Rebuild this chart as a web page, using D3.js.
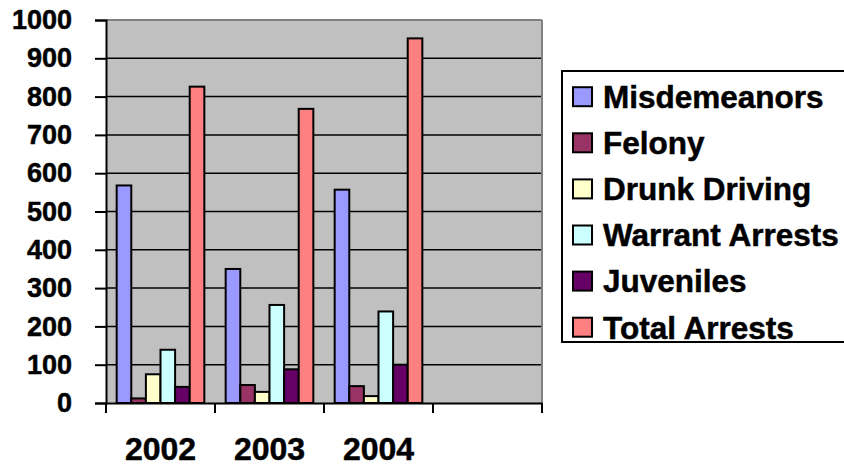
<!doctype html>
<html>
<head>
<meta charset="utf-8">
<script src="https://d3js.org/d3.v7.min.js"></script>
<style>
  body { margin: 0; background: #fff; }
  svg text { font-family: Arial, "Liberation Sans", sans-serif; font-weight: bold; fill: #000; stroke: #000; stroke-width: 0.5px; }
</style>
</head>
<body>
<div id="chart"></div>
<script>
// categories (4th slot is empty in the original)
var years = ["2002", "2003", "2004", ""];
var seriesNames = ["Misdemeanors", "Felony", "Drunk Driving", "Warrant Arrests", "Juveniles", "Total Arrests"];
var seriesColors = ["#9999FF", "#993366", "#FFFFCC", "#CCFFFF", "#660066", "#FF8080"];

// values per series, one per year
var misdemeanors = [568, 350, 557];
var felony = [12, 47, 44];
var drunkDriving = [75, 29, 18];
var warrantArrests = [139, 256, 239];
var juveniles = [42, 88, 100];
var totalArrests = [826, 768, 952];

var yTicks = [0, 100, 200, 300, 400, 500, 600, 700, 800, 900, 1000];

var allValues = [misdemeanors, felony, drunkDriving, warrantArrests, juveniles, totalArrests];

var width = 844, height = 466;
var plot = {left: 106, right: 542, top: 20, bottom: 403};

var svg = d3.select("#chart").append("svg")
  .attr("width", width)
  .attr("height", height);

var x = d3.scaleBand().domain(years).range([plot.left, plot.right]);
var xs = d3.scaleBand().domain(seriesNames).range([0, x.bandwidth()]).paddingOuter(0.73);
var y = d3.scaleLinear().domain([0, 1000]).range([plot.bottom, plot.top]);

// plot background
svg.append("rect")
  .attr("x", plot.left).attr("y", plot.top)
  .attr("width", plot.right - plot.left).attr("height", plot.bottom - plot.top)
  .attr("fill", "#C0C0C0");

// gridlines
svg.append("g").selectAll("line")
  .data(yTicks.filter(function(d){ return d > 0 && d < 1000; }))
  .enter().append("line")
  .attr("x1", plot.left).attr("x2", plot.right)
  .attr("y1", function(d){ return y(d); }).attr("y2", function(d){ return y(d); })
  .attr("stroke", "#000").attr("stroke-width", 1.5);

// top and right frame edges
svg.append("line")
  .attr("x1", plot.left).attr("x2", plot.right)
  .attr("y1", plot.top).attr("y2", plot.top)
  .attr("stroke", "#808080").attr("stroke-width", 2);
svg.append("line")
  .attr("x1", plot.right).attr("x2", plot.right)
  .attr("y1", plot.top).attr("y2", plot.bottom)
  .attr("stroke", "#808080").attr("stroke-width", 2);

// bars
var barData = [];
years.slice(0, 3).forEach(function(yr, i) {
  seriesNames.forEach(function(s, j) {
    barData.push({year: yr, series: s, value: allValues[j][i], color: seriesColors[j]});
  });
});

svg.append("g").selectAll("rect")
  .data(barData)
  .enter().append("rect")
  .attr("x", function(d){ return x(d.year) + xs(d.series); })
  .attr("y", function(d){ return y(d.value); })
  .attr("width", xs.bandwidth())
  .attr("height", function(d){ return y(0) - y(d.value); })
  .attr("fill", function(d){ return d.color; })
  .attr("stroke", "#000")
  .attr("stroke-width", 2);

// y axis
var yAxis = svg.append("g")
  .attr("transform", "translate(" + plot.left + ",0)")
  .call(d3.axisLeft(y).tickValues(yTicks).tickSize(11).tickPadding(23).tickFormat(d3.format("d")));
yAxis.selectAll("text").style("font-size", "27px");
yAxis.selectAll("line").attr("stroke", "#000").attr("stroke-width", 2);
yAxis.select(".domain").attr("stroke", "#000").attr("stroke-width", 2);

// x axis
var xAxis = svg.append("g")
  .attr("transform", "translate(0," + plot.bottom + ")")
  .call(d3.axisBottom(x).tickSize(0).tickPadding(0));
xAxis.select(".domain").attr("stroke", "#000").attr("stroke-width", 2);
xAxis.selectAll("text")
  .attr("y", 57)
  .attr("dy", null)
  .style("font-size", "32px");

// x tick marks at band boundaries
var bounds = years.map(function(d){ return x(d); }).concat([plot.right]);
svg.append("g").selectAll("line")
  .data(bounds)
  .enter().append("line")
  .attr("x1", function(d){ return d; }).attr("x2", function(d){ return d; })
  .attr("y1", plot.bottom).attr("y2", plot.bottom + 10)
  .attr("stroke", "#000").attr("stroke-width", 2);

// legend
var legend = svg.append("g");
legend.append("rect")
  .attr("x", 562).attr("y", 71)
  .attr("width", 300).attr("height", 271)
  .attr("fill", "#fff")
  .attr("stroke", "#000").attr("stroke-width", 2);

var items = legend.selectAll("g.item")
  .data(seriesNames)
  .enter().append("g")
  .attr("class", "item")
  .attr("transform", function(d, i){ return "translate(0," + (96.7 + i * 46.1) + ")"; });

items.append("rect")
  .attr("x", 573).attr("y", -9.5)
  .attr("width", 19).attr("height", 19)
  .attr("fill", function(d, i){ return seriesColors[i]; })
  .attr("stroke", "#000").attr("stroke-width", 2);

items.append("text")
  .attr("x", 603)
  .attr("dy", "0.36em")
  .style("font-size", "31.5px")
  .text(function(d){ return d; });
</script>
</body>
</html>
